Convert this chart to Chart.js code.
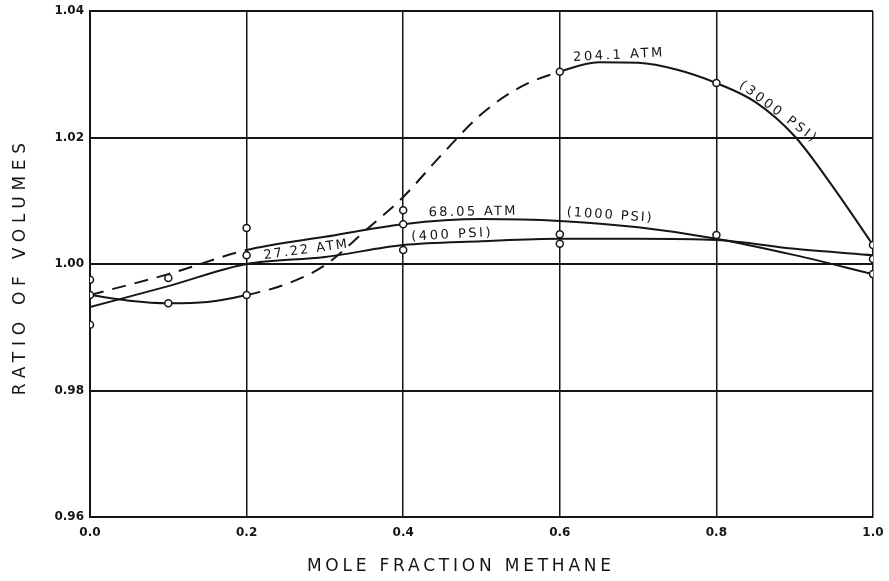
<!DOCTYPE html>
<html>
<head>
<meta charset="utf-8">
<script src="https://cdn.jsdelivr.net/npm/chart.js@4/dist/chart.umd.min.js"></script>
<style>
  html, body { margin: 0; padding: 0; background: #fff; }
  #wrap { width: 889px; height: 581px; }
</style>
</head>
<body>
<div id="wrap"><canvas id="c" width="889" height="581"></canvas></div>
<script>
// ---- data ----
const xTicks = [0.0, 0.2, 0.4, 0.6, 0.8, 1.0];
const yTicks = [0.96, 0.98, 1.00, 1.02, 1.04];

// 204.1 ATM (3000 PSI) fitted curve
const x3000 = [0, 0.05, 0.1, 0.15, 0.2, 0.25, 0.3, 0.35, 0.4, 0.45, 0.5, 0.55, 0.6, 0.65, 0.7, 0.75, 0.8, 0.85, 0.9, 0.95, 1.0];
const y3000 = [0.9951, 0.9942, 0.9938, 0.9940, 0.9951, 0.9968, 0.9998, 1.0051, 1.0106, 1.0174, 1.0237, 1.0280, 1.0304, 1.0319, 1.0318, 1.0307, 1.0286, 1.0256, 1.0202, 1.0120, 1.0030];

// 68.05 ATM (1000 PSI) fitted curve
const x1000 = [0, 0.1, 0.2, 0.3, 0.4, 0.5, 0.6, 0.7, 0.8, 0.9, 1.0];
const y1000 = [0.9951, 0.9984, 1.0022, 1.0043, 1.0063, 1.0071, 1.0068, 1.0058, 1.0040, 1.0014, 0.9984];

// 27.22 ATM (400 PSI) fitted curve
const x400 = [0, 0.1, 0.2, 0.3, 0.4, 0.5, 0.6, 0.7, 0.8, 0.9, 1.0];
const y400 = [0.9932, 0.9965, 1.0000, 1.0011, 1.0030, 1.0036, 1.0040, 1.0040, 1.0038, 1.0024, 1.0014];

// measured points (open circles)
const ptX = [0, 0, 0, 0.1, 0.1, 0.2, 0.2, 0.2, 0.4, 0.4, 0.4, 0.6, 0.6, 0.6, 0.8, 0.8, 1.0, 1.0, 1.0];
const ptY = [0.9975, 0.9951, 0.9904, 0.9978, 0.9938, 1.0057, 1.0014, 0.9951, 1.0085, 1.0063, 1.0022, 1.0304, 1.0047, 1.0032, 1.0286, 1.0046, 1.0030, 1.0008, 0.9984];

// dashed ranges of the curves
const dash3000 = [0.2, 0.6];
const dash1000 = [0.0, 0.2];

// curve labels
const labelText  = ['204.1 ATM', '(3000 PSI)', '68.05 ATM', '(1000 PSI)', '27.22 ATM', '(400 PSI)'];
const labelX     = [0.674, 0.878, 0.488, 0.663, 0.275, 0.461];
const labelY     = [1.0330, 1.0241, 1.0082, 1.0077, 1.0022, 1.0046];
const labelAngle = [-3, 37, -1, 4, -8, -3];
const labelWidth = [92, 95, 89, 87, 86, 82];

const xTitle = 'MOLE FRACTION METHANE';
const yTitle = 'RATIO OF VOLUMES';

// ---- build ----
const INK = '#151515';
const zip = (xs, ys) => xs.map((x, i) => ({ x: x, y: ys[i] }));
const inRange = (ctx, r) => ctx.p0.parsed.x >= r[0] - 1e-9 && ctx.p1.parsed.x <= r[1] + 1e-9;

function spacedText(ctx, text, x, y, targetW) {
  ctx.letterSpacing = '0px';
  const w0 = ctx.measureText(text).width;
  const n = text.length;
  const ls = n > 1 ? Math.max(0, (targetW - w0) / n) : 0;
  ctx.letterSpacing = ls + 'px';
  ctx.fillText(text, x + ls / 2, y);
  ctx.letterSpacing = '0px';
}

const annotate = {
  id: 'annotate',
  afterDraw(chart) {
    const ctx = chart.ctx;
    const xs = chart.scales.x, ys = chart.scales.y;
    ctx.save();
    ctx.fillStyle = INK;
    ctx.textAlign = 'center';
    ctx.textBaseline = 'middle';
    ctx.font = '13px "DejaVu Sans"';
    for (let i = 0; i < labelText.length; i++) {
      const px = xs.getPixelForValue(labelX[i]);
      const py = ys.getPixelForValue(labelY[i]);
      ctx.save();
      ctx.translate(px, py);
      ctx.rotate(labelAngle[i] * Math.PI / 180);
      spacedText(ctx, labelText[i], 0, 0, labelWidth[i]);
      ctx.restore();
    }
    // axis titles
    ctx.font = '17px "DejaVu Sans"';
    spacedText(ctx, xTitle, 459, 567, 308);
    ctx.save();
    ctx.translate(21, 269);
    ctx.rotate(-Math.PI / 2);
    spacedText(ctx, yTitle, 0, 0, 258);
    ctx.restore();
    ctx.restore();
  }
};

const lineBase = {
  type: 'line',
  borderColor: INK,
  borderWidth: 2,
  pointRadius: 0,
  fill: false,
  cubicInterpolationMode: 'monotone',
  showLine: true
};

new Chart(document.getElementById('c'), {
  type: 'scatter',
  data: {
    datasets: [
      {
        label: 'measured',
        data: zip(ptX, ptY),
        showLine: false,
        pointRadius: 3.5,
        pointBorderWidth: 1.5,
        pointBackgroundColor: '#fff',
        pointBorderColor: INK
      },
      Object.assign({}, lineBase, {
        label: '204.1 ATM (3000 PSI)',
        data: zip(x3000, y3000),
        segment: { borderDash: ctx => inRange(ctx, dash3000) ? [14, 9] : undefined }
      }),
      Object.assign({}, lineBase, {
        label: '68.05 ATM (1000 PSI)',
        data: zip(x1000, y1000),
        segment: { borderDash: ctx => inRange(ctx, dash1000) ? [14, 9] : undefined }
      }),
      Object.assign({}, lineBase, {
        label: '27.22 ATM (400 PSI)',
        data: zip(x400, y400)
      })
    ]
  },
  options: {
    responsive: false,
    animation: false,
    layout: { padding: { top: 11, right: 16, left: 0, bottom: 0 } },
    plugins: { legend: { display: false }, tooltip: { enabled: false }, title: { display: false } },
    scales: {
      x: {
        type: 'linear',
        min: 0, max: 1,
        afterBuildTicks: s => { s.ticks = xTicks.map(v => ({ value: v })); },
        afterFit: s => { s.height = 64; s.paddingLeft = 0; s.paddingRight = 0; },
        ticks: {
          callback: v => Number(v).toFixed(1),
          color: INK,
          font: { family: 'DejaVu Sans', size: 12, weight: 'bold' },
          padding: 9,
          maxRotation: 0,
          autoSkip: false
        },
        grid: { color: INK, lineWidth: 1.5, drawTicks: false },
        border: { display: true, color: INK, width: 2 }
      },
      y: {
        type: 'linear',
        min: 0.96, max: 1.04,
        afterBuildTicks: s => { s.ticks = yTicks.map(v => ({ value: v })); },
        afterFit: s => { s.width = 90; s.paddingTop = 0; s.paddingBottom = 0; },
        ticks: {
          callback: v => Number(v).toFixed(2),
          color: INK,
          font: { family: 'DejaVu Sans', size: 12, weight: 'bold' },
          padding: 6,
          autoSkip: false
        },
        grid: { color: INK, lineWidth: 2, drawTicks: false },
        border: { display: true, color: INK, width: 2 }
      }
    }
  },
  plugins: [annotate]
});
</script>
</body>
</html>
